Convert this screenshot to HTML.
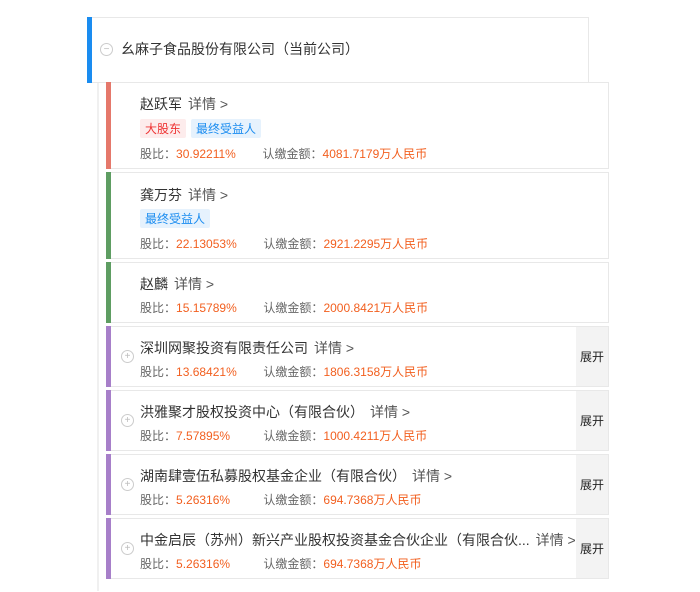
<!DOCTYPE html>
<html><head><meta charset="utf-8"><style>
body{margin:0;width:700px;height:592px;background:#fff;position:relative;overflow:hidden;font-family:"Liberation Sans","Noto Sans CJK SC",sans-serif;}
.top{position:absolute;left:87px;top:17px;width:501px;height:64px;border:1px solid #e8e8e8;border-left:none;background:#fff;}
.top .bar{position:absolute;left:0;top:-1px;width:5px;height:66px;background:#1a8cf0;}
.top .t{position:absolute;left:34px;top:21px;font-size:14px;color:#333;}
.circ{position:absolute;width:11px;height:11px;border:1px solid #ccc;border-radius:50%;color:#bbb;font-size:10px;line-height:11px;text-align:center;}
.card{position:absolute;left:106px;width:501px;border:1px solid #e8e8e8;background:#fff;}
.card .bar{position:absolute;left:-1px;top:-1px;bottom:-1px;width:5px;}
.nm{position:absolute;left:33px;font-size:14px;color:#333;}
.nm span{color:#555;margin-left:6px;}
.ln{position:absolute;left:33px;font-size:12px;color:#666;}
.ln b{font-weight:normal;color:#f25f1f;}
.tag{display:inline-block;font-size:12px;padding:1px 5px;border-radius:2px;margin-right:5px;}
.red{background:#fdecec;color:#e33;}
.blue{background:#e6f2fd;color:#1a8cf0;}
.exp{position:absolute;right:0;top:0;bottom:0;width:32px;background:#f3f3f3;font-size:12px;color:#222;display:flex;align-items:center;justify-content:center;}
.line{position:absolute;left:97px;top:81px;width:2px;height:510px;background:#f0f0f0;}
</style></head><body>
<div class="line"></div>
<div class="top"><div class="bar"></div><div class="circ" style="left:13px;top:25px">−</div><div class="t">幺麻子食品股份有限公司（当前公司）</div></div>

<div class="card" style="top:82px;height:85px"><div class="bar" style="background:#e5786b"></div>
<div class="nm" style="top:11px">赵跃军<span>详情 &gt;</span></div>
<div class="ln" style="top:36px"><span class="tag red">大股东</span><span class="tag blue">最终受益人</span></div>
<div class="ln" style="top:62px">股比：<b>30.92211%</b>&nbsp;&nbsp;&nbsp;&nbsp;&nbsp;&nbsp;&nbsp;&nbsp;认缴金额：<b>4081.7179万人民币</b></div></div>

<div class="card" style="top:172px;height:85px"><div class="bar" style="background:#5e9d62"></div>
<div class="nm" style="top:12px">龚万芬<span>详情 &gt;</span></div>
<div class="ln" style="top:36px"><span class="tag blue">最终受益人</span></div>
<div class="ln" style="top:62px">股比：<b>22.13053%</b>&nbsp;&nbsp;&nbsp;&nbsp;&nbsp;&nbsp;&nbsp;&nbsp;认缴金额：<b>2921.2295万人民币</b></div></div>

<div class="card" style="top:262px;height:59px"><div class="bar" style="background:#5e9d62"></div>
<div class="nm" style="top:11px">赵麟<span>详情 &gt;</span></div>
<div class="ln" style="top:36px">股比：<b>15.15789%</b>&nbsp;&nbsp;&nbsp;&nbsp;&nbsp;&nbsp;&nbsp;&nbsp;认缴金额：<b>2000.8421万人民币</b></div></div>

<div class="card" style="top:326px;height:59px"><div class="bar" style="background:#a77fc9"></div><div class="circ" style="left:14px;top:23px">+</div>
<div class="nm" style="top:11px">深圳网聚投资有限责任公司<span>详情 &gt;</span></div>
<div class="ln" style="top:36px">股比：<b>13.68421%</b>&nbsp;&nbsp;&nbsp;&nbsp;&nbsp;&nbsp;&nbsp;&nbsp;认缴金额：<b>1806.3158万人民币</b></div><div class="exp">展开</div></div>

<div class="card" style="top:390px;height:59px"><div class="bar" style="background:#a77fc9"></div><div class="circ" style="left:14px;top:23px">+</div>
<div class="nm" style="top:11px">洪雅聚才股权投资中心（有限合伙）<span>详情 &gt;</span></div>
<div class="ln" style="top:36px">股比：<b>7.57895%</b>&nbsp;&nbsp;&nbsp;&nbsp;&nbsp;&nbsp;&nbsp;&nbsp;&nbsp;&nbsp;认缴金额：<b>1000.4211万人民币</b></div><div class="exp">展开</div></div>

<div class="card" style="top:454px;height:59px"><div class="bar" style="background:#a77fc9"></div><div class="circ" style="left:14px;top:23px">+</div>
<div class="nm" style="top:11px">湖南肆壹伍私募股权基金企业（有限合伙）<span>详情 &gt;</span></div>
<div class="ln" style="top:36px">股比：<b>5.26316%</b>&nbsp;&nbsp;&nbsp;&nbsp;&nbsp;&nbsp;&nbsp;&nbsp;&nbsp;&nbsp;认缴金额：<b>694.7368万人民币</b></div><div class="exp">展开</div></div>

<div class="card" style="top:518px;height:59px"><div class="bar" style="background:#a77fc9"></div><div class="circ" style="left:14px;top:23px">+</div>
<div class="nm" style="top:11px">中金启辰（苏州）新兴产业股权投资基金合伙企业（有限合伙...<span>详情 &gt;</span></div>
<div class="ln" style="top:36px">股比：<b>5.26316%</b>&nbsp;&nbsp;&nbsp;&nbsp;&nbsp;&nbsp;&nbsp;&nbsp;&nbsp;&nbsp;认缴金额：<b>694.7368万人民币</b></div><div class="exp">展开</div></div>
</body></html>
